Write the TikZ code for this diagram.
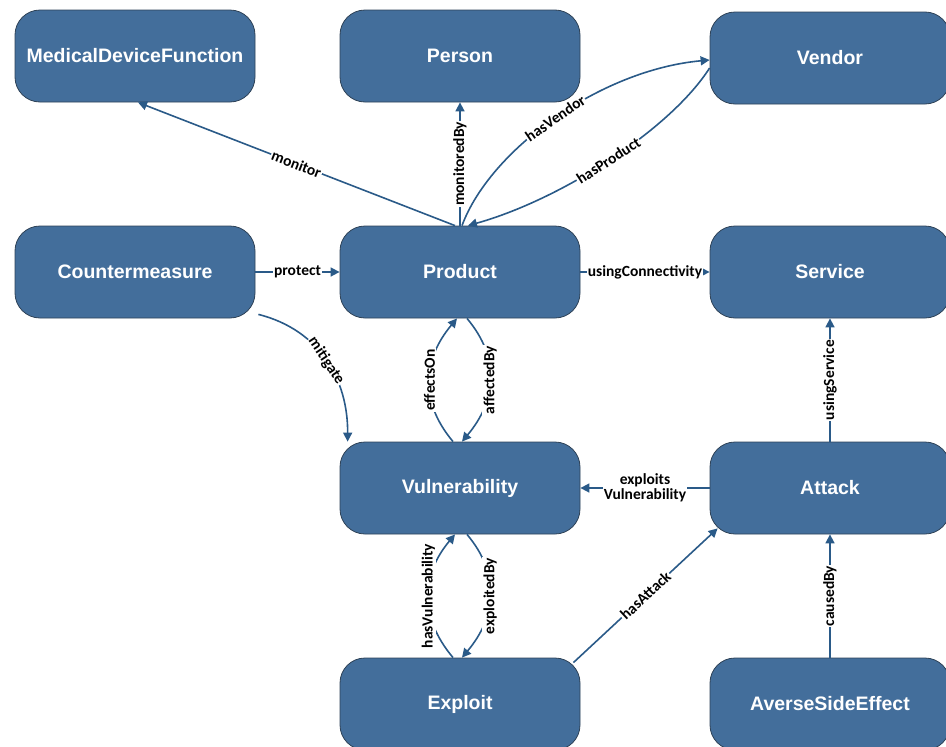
\documentclass[tikz,border=0pt]{standalone}
\usepackage{fontspec}
\setmainfont{Liberation Sans}
\newfontfamily\lblfont{Carlito}
\usetikzlibrary{arrows.meta}
\definecolor{nodefill}{HTML}{436E9B}
\definecolor{nodeline}{HTML}{2E4257}
\definecolor{edgecol}{HTML}{2A5A88}
\tikzset{
  concept/.style={rectangle, rounded corners=25pt, minimum width=240pt, minimum height=92pt,
    fill=nodefill, draw=nodeline, line width=0.8pt, text=white,
    font=\fontsize{19.5}{22}\selectfont\bfseries, inner sep=0pt},
  edge/.style={draw=edgecol, line width=1.6pt, -{Triangle[length=9pt,width=9pt]}},
  lbl/.style={fill=white, text=black, inner sep=1pt, font=\lblfont\bfseries\fontsize{15.5}{17}\selectfont},
  vlbl/.style={lbl, rotate=90}
}
\begin{document}
\begin{tikzpicture}[x=1pt,y=1pt]
\useasboundingbox (0,0) rectangle (946,-747);
\clip (0,0) rectangle (946,-747);
% nodes
\node[concept] (mdf) at (135,-56) {MedicalDeviceFunction};
\node[concept] (person) at (460,-56) {Person};
\node[concept] (vendor) at (830,-58) {Vendor};
\node[concept] (counter) at (135,-272) {Countermeasure};
\node[concept] (product) at (460,-272) {Product};
\node[concept] (service) at (830,-272) {Service};
\node[concept] (vuln) at (460,-488) {Vulnerability};
\node[concept] (attack) at (830,-488) {Attack};
\node[concept] (exploit) at (460,-704) {Exploit};
\node[concept] (ase) at (830,-704) {AverseSideEffect};
% edges
\draw[edge] ([xshift=-5pt]product.north) -- ([xshift=3pt]mdf.south)
  node[lbl, sloped, pos=0.5] {monitor};
\draw[edge] (product.north) -- (person.south)
  node[vlbl, pos=0.5] {monitoredBy};
\draw[edge] ([xshift=2pt]product.north) .. controls (490,-150) and (600,-70) .. ([yshift=-2pt]vendor.west)
  node[lbl, sloped, pos=0.5] {hasVendor};
\draw[edge] ([yshift=-10pt]vendor.west) .. controls (670,-130) and (560,-200) .. ([xshift=8pt]product.north)
  node[lbl, sloped, pos=0.5] {hasProduct};
\draw[edge] (counter.east) -- (product.west)
  node[lbl, midway] {protect};
\draw[edge] (product.east) -- (service.west)
  node[lbl, midway] {usingConnectivity};
\draw[edge] ([xshift=3pt,yshift=4pt]counter.south east) .. controls (320,-330) and (348,-380) .. ([xshift=8pt]vuln.north west)
  node[lbl, sloped, pos=0.5] {mitigate};
\draw[edge] ([xshift=-7pt]vuln.north) to[out=130, in=-130, looseness=1.1]
  node[vlbl, pos=0.5] {effectsOn} ([xshift=-3pt]product.south);
\draw[edge] ([xshift=7pt]product.south) to[out=-50, in=50, looseness=1.1]
  node[vlbl, pos=0.5] {affectedBy} ([xshift=2pt]vuln.north);
\draw[edge] (attack.west) -- (vuln.east)
  node[lbl, midway, align=center] {exploits\\[-2pt]Vulnerability};
\draw[edge] ([xshift=-7pt]exploit.north) to[out=130, in=-130, looseness=1.1]
  node[vlbl, pos=0.5] {hasVulnerability} ([xshift=-5pt]vuln.south);
\draw[edge] ([xshift=7pt]vuln.south) to[out=-50, in=50, looseness=1.1]
  node[vlbl, pos=0.5] {exploitedBy} ([xshift=2pt]exploit.north);
\draw[edge] ([xshift=-7pt,yshift=-5pt]exploit.north east) -- ([xshift=8pt,yshift=6pt]attack.south west)
  node[lbl, sloped, midway] {hasAttack};
\draw[edge] (attack.north) -- (service.south)
  node[vlbl, midway] {usingService};
\draw[edge] (ase.north) -- (attack.south)
  node[vlbl, midway] {causedBy};
\end{tikzpicture}
\end{document}
